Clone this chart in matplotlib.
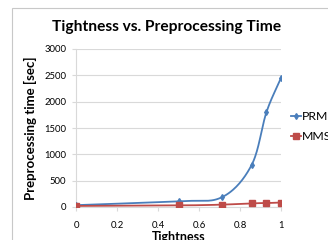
import numpy as np
import matplotlib.pyplot as plt
from matplotlib.patches import Rectangle

# values
tightness = [0, 0.5, 0.714, 0.857, 0.929, 1.0]
prm_time = [35, 110, 190, 800, 1800, 2450]
mms_time = [20, 30, 45, 70, 75, 85]
x_ticks = [0, 0.2, 0.4, 0.6, 0.8, 1]
x_tick_labels = ['0', '0.2', '0.4', '0.6', '0.8', '1']
y_ticks = [0, 500, 1000, 1500, 2000, 2500, 3000]

font = ['Lato', 'DejaVu Sans']
grey = '#d9d9d9'


def smooth(x, y, n=30):
    # Catmull-Rom curve through the points, like Excel's smoothed line
    x = np.asarray(x, float)
    y = np.asarray(y, float)
    px = np.concatenate([[2 * x[0] - x[1]], x, [2 * x[-1] - x[-2]]])
    py = np.concatenate([[2 * y[0] - y[1]], y, [2 * y[-1] - y[-2]]])
    xs, ys = [], []
    t = np.linspace(0, 1, n)
    for i in range(1, len(px) - 2):
        for p, out in ((px, xs), (py, ys)):
            p0, p1, p2, p3 = p[i - 1], p[i], p[i + 1], p[i + 2]
            out.extend(0.5 * (2 * p1 + (-p0 + p2) * t
                              + (2 * p0 - 5 * p1 + 4 * p2 - p3) * t ** 2
                              + (-p0 + 3 * p1 - 3 * p2 + p3) * t ** 3))
    return xs, ys


fig = plt.figure(figsize=(3.28, 2.4), dpi=100)
fig.patches.append(Rectangle((12 / 328, -0.1), 1.0, 1 - 8 / 240 + 0.1,
                             transform=fig.transFigure, fill=False,
                             edgecolor='#c8c8c8', linewidth=0.8))

ax = fig.add_axes([76 / 328, 1 - 207 / 240, 205 / 328, 158 / 240])

sx, sy = smooth(tightness, prm_time)
ax.plot(sx, sy, color='#4a7ebb', linewidth=1.3, zorder=3)
ax.plot(tightness, prm_time, linestyle='none', marker='d', markersize=3,
        color='#4a7ebb', zorder=4)
sx, sy = smooth(tightness, mms_time)
ax.plot(sx, sy, color='#be4b48', linewidth=1.3, zorder=3)
ax.plot(tightness, mms_time, linestyle='none', marker='s', markersize=3.8,
        color='#be4b48', zorder=4)

ax.set_xlim(0, 1)
ax.set_ylim(0, 3000)
ax.set_xticks(x_ticks)
ax.set_xticklabels(x_tick_labels)
ax.set_yticks(y_ticks)
ax.yaxis.grid(True, color=grey, linewidth=0.8)
ax.set_axisbelow(True)
for side in ['top', 'right']:
    ax.spines[side].set_visible(False)
for side in ['left', 'bottom']:
    ax.spines[side].set_color(grey)
    ax.spines[side].set_linewidth(0.8)
ax.tick_params(colors=grey, length=3, width=0.8, labelcolor='black',
               labelsize=6.8, pad=4)
for lab in ax.get_xticklabels() + ax.get_yticklabels():
    lab.set_family(font)
ax.tick_params(axis='x', pad=7)

ax.set_xlabel('Tightness', fontsize=9, fontweight='bold', family=font,
              labelpad=1)
ax.set_ylabel('Preprocessing time [sec]', fontsize=9.5, fontweight='bold',
              family=font, labelpad=5)
fig.text(167 / 328, 1 - 27 / 240, 'Tightness vs. Preprocessing Time',
         ha='center', va='center', fontsize=11.2, fontweight='bold',
         family=font)

# legend, partly cut off at the right edge like the reference
lx = [291 / 328, 301 / 328]
for ly, name, color, mk, ms in ((1 - 116 / 240, 'PRM', '#4a7ebb', 'd', 3),
                                (1 - 136 / 240, 'MMS', '#be4b48', 's', 3.8)):
    fig.add_artist(plt.Line2D(lx, [ly, ly], color=color, linewidth=1.3,
                              transform=fig.transFigure))
    fig.add_artist(plt.Line2D([sum(lx) / 2], [ly], marker=mk, markersize=ms,
                              color=color, transform=fig.transFigure))
    fig.text(302 / 328, ly, name, ha='left', va='center', fontsize=8.8,
             family=font)

fig.savefig('out.png', dpi=100)
